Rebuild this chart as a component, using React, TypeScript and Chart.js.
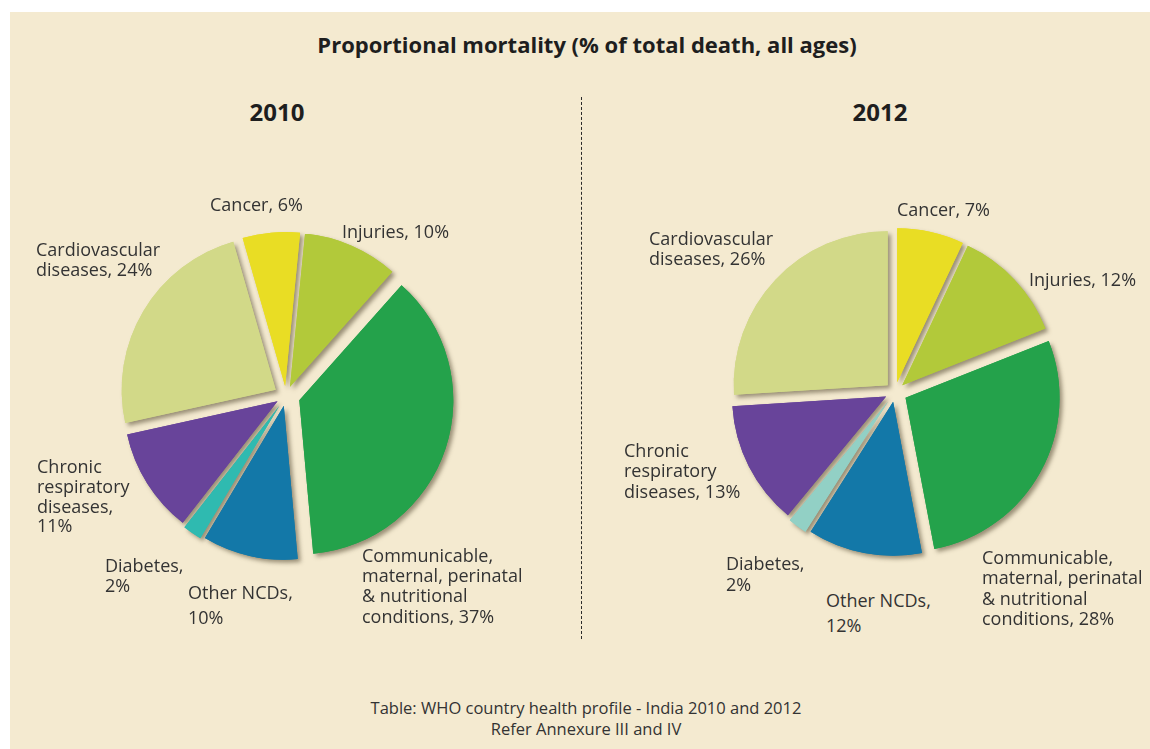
import React, { useEffect, useRef } from 'react';
import { Chart, registerables } from 'chart.js';

Chart.register(...registerables);

// ---------- DATA ----------
const chartTitle = 'Proportional mortality (% of total death, all ages)';
const years = ['2010', '2012'];
const categories = [
  'Cancer',
  'Injuries',
  'Communicable, maternal, perinatal & nutritional conditions',
  'Other NCDs',
  'Diabetes',
  'Chronic respiratory diseases',
  'Cardiovascular diseases',
];
const values2010 = [6, 10, 37, 10, 2, 11, 24];
const values2012 = [7, 12, 28, 12, 2, 13, 26];
const footerLines = ['Table: WHO country health profile - India 2010 and 2012', 'Refer Annexure III and IV'];

// label text lines ({v} is replaced by the value)
const labelLines2010 = [
  ['Cancer, {v}%'],
  ['Injuries, {v}%'],
  ['Communicable,', 'maternal, perinatal', '& nutritional', 'conditions, {v}%'],
  ['Other NCDs,', '{v}%'],
  ['Diabetes,', '{v}%'],
  ['Chronic', 'respiratory', 'diseases,', '{v}%'],
  ['Cardiovascular', 'diseases, {v}%'],
];
const labelLines2012 = [
  ['Cancer, {v}%'],
  ['Injuries, {v}%'],
  ['Communicable,', 'maternal, perinatal', '& nutritional', 'conditions, {v}%'],
  ['Other NCDs,', '{v}%'],
  ['Diabetes,', '{v}%'],
  ['Chronic', 'respiratory', 'diseases, {v}%'],
  ['Cardiovascular', 'diseases, {v}%'],
];

// ---------- STYLE / LAYOUT ----------
const colors2010 = ['#e9dd24', '#b2c93a', '#24a24b', '#1378a8', '#2fbab0', '#68449a', '#d2d988'];
const colors2012 = ['#e9dd24', '#b2c93a', '#24a24b', '#1378a8', '#92d0c5', '#68449a', '#d2d988'];
const explode2010 = [10, 10, 14, 10, 12, 10, 12];
const explode2012 = [10, 10, 12, 10, 12, 10, 10];

const PANEL_BG = '#f4ead0';
const TEXT = '#333333';
const FONT = "'Open Sans', 'Noto Sans', sans-serif";
const CANVAS = 380;
const RADIUS = 154;
const ASC = 1.069;
const CONTENT = 1.362;

const pies = [
  { cx: 286, cy: 396, rotation: -16, values: values2010, colors: colors2010, explode: explode2010, lines: labelLines2010, yearX: 277 },
  { cx: 895, cy: 392, rotation: 0, values: values2012, colors: colors2012, explode: explode2012, lines: labelLines2012, yearX: 880 },
];

// label anchor: left x, first baseline y, line height
const labelPos2010 = [
  { x: 210, b: 211, lh: 20 },
  { x: 342, b: 238, lh: 20 },
  { x: 362, b: 562, lh: 20.3 },
  { x: 188, b: 599, lh: 25 },
  { x: 105, b: 572, lh: 20 },
  { x: 37, b: 474, lh: 19.7 },
  { x: 36, b: 257, lh: 19.5 },
];
const labelPos2012 = [
  { x: 897, b: 216, lh: 20 },
  { x: 1029, b: 286, lh: 20 },
  { x: 982, b: 564, lh: 20.5 },
  { x: 826, b: 607, lh: 25 },
  { x: 726, b: 570, lh: 21 },
  { x: 624, b: 457, lh: 20.5 },
  { x: 649, b: 246, lh: 19.5 },
];
const labelPositions = [labelPos2010, labelPos2012];

const topFromBaseline = (b: number, fs: number, lh: number) => b - ((lh - CONTENT * fs) / 2 + ASC * fs);

// draws each arc pushed out along its mid angle, shadows first then fills
const explodePlugin = {
  id: 'explodeShadow',
  beforeDatasetDraw(chart: any, args: any, opts: any) {
    const ctx = chart.ctx as CanvasRenderingContext2D;
    const meta = args.meta;
    const offsets: number[] = opts.offsets || [];
    const pass = (shadow: boolean) => {
      meta.data.forEach((arc: any, i: number) => {
        const mid = (arc.startAngle + arc.endAngle) / 2;
        const d = offsets[i] ?? 10;
        ctx.save();
        ctx.translate(Math.cos(mid) * d, Math.sin(mid) * d);
        if (shadow) {
          ctx.shadowColor = 'rgba(80,70,45,0.55)';
          ctx.shadowBlur = 4;
          ctx.shadowOffsetX = 3;
          ctx.shadowOffsetY = 3;
        }
        arc.draw(ctx, chart.chartArea);
        ctx.restore();
      });
    };
    pass(true);
    pass(false);
    return false;
  },
};

function PieChart({ values, colors, rotation, explode }: { values: number[]; colors: string[]; rotation: number; explode: number[] }) {
  const ref = useRef<HTMLCanvasElement | null>(null);
  useEffect(() => {
    if (!ref.current) return;
    const chart = new Chart(ref.current, {
      type: 'pie',
      data: {
        labels: categories,
        datasets: [
          {
            data: values,
            backgroundColor: colors,
            borderWidth: 0,
            radius: RADIUS,
          } as any,
        ],
      },
      options: {
        responsive: false,
        animation: false,
        rotation,
        radius: RADIUS,
        layout: { padding: 0 },
        events: [],
        plugins: {
          legend: { display: false },
          tooltip: { enabled: false },
          title: { display: false },
          explodeShadow: { offsets: explode },
        } as any,
      } as any,
      plugins: [explodePlugin as any],
    });
    return () => chart.destroy();
  }, []);
  return <canvas ref={ref} width={CANVAS} height={CANVAS} style={{ width: CANVAS, height: CANVAS, display: 'block' }} />;
}

export default function App() {
  const labelFont = 18;
  const titleFont = 22;
  const yearFont = 24;
  const footFont = 16.5;
  return (
    <div style={{ position: 'fixed', left: 0, top: 0, width: 1150, height: 749, background: '#ffffff', overflow: 'hidden', fontFamily: FONT }}>
      <div style={{ position: 'absolute', left: 10, top: 12, right: 0, bottom: 0, background: PANEL_BG }} />
      <div
        style={{
          position: 'absolute', left: 587, top: topFromBaseline(53, titleFont, 26), transform: 'translateX(-50%)', whiteSpace: 'nowrap',
          fontSize: titleFont, lineHeight: '26px', fontWeight: 700, color: '#1e1e1e',
        }}
      >
        {chartTitle}
      </div>
      {/* dotted divider */}
      <div style={{ position: 'absolute', left: 581, top: 97, height: 542, width: 0, borderLeft: '1px dashed #2a2a2a' }} />
      {pies.map((p, pi) => (
        <React.Fragment key={pi}>
          <div
            style={{
              position: 'absolute', left: p.yearX, top: topFromBaseline(121, yearFont, 28), transform: 'translateX(-50%)',
              fontSize: yearFont, lineHeight: '28px', fontWeight: 700, color: '#1e1e1e',
            }}
          >
            {years[pi]}
          </div>
          <div style={{ position: 'absolute', left: p.cx - CANVAS / 2, top: p.cy - CANVAS / 2 }}>
            <PieChart values={p.values} colors={p.colors} rotation={p.rotation} explode={p.explode} />
          </div>
          {p.lines.map((lines, i) => {
            const pos = labelPositions[pi][i];
            return (
              <div
                key={i}
                style={{
                  position: 'absolute', left: pos.x, top: topFromBaseline(pos.b, labelFont, pos.lh), whiteSpace: 'pre',
                  fontSize: labelFont, lineHeight: `${pos.lh}px`, color: TEXT,
                }}
              >
                {lines.map((l) => l.replace('{v}', String(p.values[i]))).join('\n')}
              </div>
            );
          })}
        </React.Fragment>
      ))}
      <div
        style={{
          position: 'absolute', left: 586, top: topFromBaseline(714, footFont, 21), transform: 'translateX(-50%)', textAlign: 'center',
          whiteSpace: 'pre', fontSize: footFont, lineHeight: '21px', color: TEXT,
        }}
      >
        {footerLines.join('\n')}
      </div>
    </div>
  );
}
